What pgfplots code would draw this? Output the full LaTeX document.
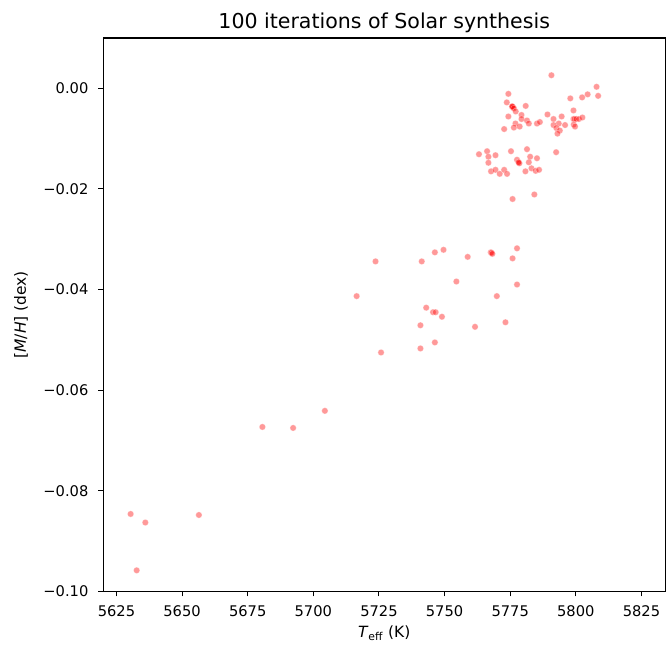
\documentclass[border=0pt]{standalone}
\usepackage{pgfplots}
\pgfplotsset{compat=1.18}
\usepackage{pgfplotstable}
\usepackage{fontspec}
\setmainfont{DejaVu Sans}

% Teff (K) and [M/H] (dex) of the 100 synthesis runs
\pgfplotstableread{
T MH
5790.7 0.0026
5807.9 0.0003
5808.5 -0.0015
5804.5 -0.0012
5802.4 -0.0018
5797.9 -0.0020
5774.3 -0.0011
5773.7 -0.0028
5775.9 -0.0037
5776.1 -0.0038
5775.7 -0.0036
5775.8 -0.0036
5776.4 -0.0040
5777.1 -0.0046
5780.9 -0.0035
5779.3 -0.0053
5779.3 -0.0061
5774.3 -0.0056
5777.0 -0.0070
5776.4 -0.0078
5778.6 -0.0076
5772.7 -0.0081
5781.4 -0.0064
5782.1 -0.0070
5785.2 -0.0070
5786.3 -0.0067
5789.2 -0.0052
5791.5 -0.0061
5793.5 -0.0070
5794.6 -0.0056
5791.5 -0.0073
5792.6 -0.0079
5793.9 -0.0084
5793.0 -0.0090
5795.9 -0.0073
5799.1 -0.0044
5799.1 -0.0061
5799.5 -0.0061
5800.2 -0.0061
5801.2 -0.0061
5802.5 -0.0058
5799.2 -0.0072
5799.7 -0.0076
5763.1 -0.0131
5766.2 -0.0125
5766.7 -0.0136
5766.7 -0.0148
5769.4 -0.0133
5775.3 -0.0125
5781.4 -0.0121
5777.6 -0.0142
5778.3 -0.0148
5778.5 -0.0149
5778.2 -0.0147
5782.6 -0.0136
5785.2 -0.0139
5782.1 -0.0147
5783.1 -0.0159
5780.8 -0.0165
5784.7 -0.0164
5786.0 -0.0162
5767.7 -0.0165
5769.4 -0.0162
5771.0 -0.0170
5772.7 -0.0162
5773.8 -0.0170
5792.5 -0.0127
5784.2 -0.0211
5775.9 -0.0220
5723.7 -0.0344
5741.3 -0.0344
5746.3 -0.0326
5749.6 -0.0321
5758.8 -0.0335
5767.6 -0.0326
5767.9 -0.0327
5768.2 -0.0329
5777.6 -0.0318
5775.9 -0.0338
5754.5 -0.0384
5777.6 -0.0390
5716.5 -0.0413
5769.9 -0.0413
5743.0 -0.0436
5745.6 -0.0445
5746.6 -0.0445
5749.0 -0.0454
5740.8 -0.0471
5761.6 -0.0474
5773.2 -0.0465
5746.3 -0.0505
5740.8 -0.0517
5725.8 -0.0525
5680.6 -0.0673
5692.3 -0.0675
5704.4 -0.0641
5630.4 -0.0846
5636.0 -0.0863
5656.4 -0.0848
5632.7 -0.0958
}\runs

\begin{document}
\begin{tikzpicture}
\useasboundingbox (0,0) rectangle (500.25pt,483pt);
\begin{axis}[
  at={(77.5pt,39.4pt)}, anchor=south west,
  scale only axis,
  width=421.3pt, height=415.1pt,
  xmin=5620, xmax=5834,
  ymin=-0.1, ymax=0.01,
  axis line style={black, line width=0.8pt},
  tick align=outside,
  xtick pos=left, ytick pos=left,
  major tick length=3.7pt,
  tick style={black, line width=0.8pt},
  xtick={5625,5650,5675,5700,5725,5750,5775,5800,5825},
  xticklabels={5625,5650,5675,5700,5725,5750,5775,5800,5825},
  ytick={-0.1,-0.08,-0.06,-0.04,-0.02,0},
  yticklabels={−0.10,−0.08,−0.06,−0.04,−0.02,0.00},
  ticklabel style={font=\fontsize{11}{13}\selectfont, inner sep=0pt},
  xticklabel style={anchor=base, yshift=-15.3pt},
  yticklabel style={anchor=east, xshift=-7.3pt},
  every axis title shift=0pt,
  title={100 iterations of Solar synthesis},
  title style={at={(axis description cs:0.5,1.018)}, anchor=base,
    font=\fontsize{15.4}{18}\selectfont, inner sep=0pt},
  xlabel={\textit{T}\textsubscript{eff} (K)},
  xlabel style={at={(axis description cs:0.5,-0.0835)}, anchor=base,
    font=\fontsize{11.6}{14}\selectfont, inner sep=0pt},
  ylabel={[\textit{M}/\textit{H}] (dex)},
  ylabel style={at={(axis description cs:-0.138,0.5)}, anchor=base,
    font=\fontsize{11.6}{14}\selectfont, inner sep=0pt},
  clip=false,
]
\addplot[only marks, mark=*, mark size=2.4pt,
  mark options={fill=red, draw=white, line width=0.4pt, opacity=0.4}]
  table[x=T, y=MH] {\runs};
\end{axis}
\end{tikzpicture}
\end{document}
